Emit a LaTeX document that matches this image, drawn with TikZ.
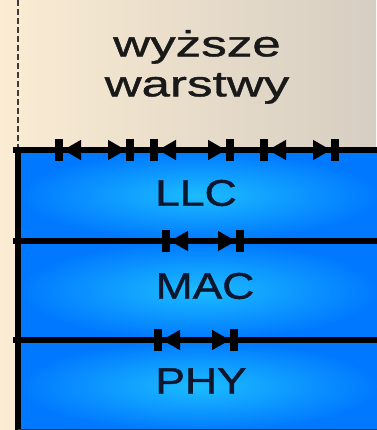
\documentclass[tikz,border=0pt]{standalone}
\usepackage{fontspec}
\setmainfont{Liberation Sans}
\newfontfamily\upperfont[FakeStretch=1.42,FakeBold=1.2]{Liberation Sans}
\newfontfamily\layerfont[FakeStretch=1.2,FakeBold=1.2]{Liberation Sans}
\definecolor{paperleft}{RGB}{251,236,211}
\definecolor{paperright}{RGB}{214,206,194}
\definecolor{layerhi}{RGB}{28,188,255}
\definecolor{layerlo}{RGB}{0,120,255}
\definecolor{labelink}{RGB}{12,22,45}
\definecolor{dashgrey}{RGB}{60,60,60}
\usetikzlibrary{arrows.meta}

\begin{document}
\begin{tikzpicture}[
      x=1pt,y=-1pt,
      layer/.style={inner color=layerhi,outer color=layerlo},
      lname/.style={font=\layerfont\fontsize{37}{40}\selectfont,text=labelink,inner sep=0pt},
      sep line/.style={line width=5.5pt,black},
      peer/.style={line width=5.5pt,
                   {Rectangle[length=8pt,width=22pt]Triangle[length=18pt,width=19pt]}-%
                   {Triangle[length=18pt,width=19pt]Rectangle[length=8pt,width=22pt]}}]
    \useasboundingbox (0,0) rectangle (376,430);
    \shade[left color=paperleft,right color=paperright] (0,0) rectangle (376,430);
    \draw[dashgrey,line width=2pt,dash pattern=on 6pt off 3pt] (18,0) -- (18,147);

    % the three layers
    \shade[layer] (18,150) rectangle (380,241);
    \shade[layer] (18,241) rectangle (380,340);
    \shade[layer] (18,340) rectangle (380,432);

    \node[inner sep=0pt,align=center,text=black!90,
          font=\upperfont\fontsize{36}{40}\selectfont] (upper) at (197,67) {wyższe\\warstwy};
    \node[lname] (llc) at (196,193) {LLC};
    \node[lname] (mac) at (205,286) {MAC};
    \node[lname] (phy) at (201,381) {PHY};

    % borders between the layers
    \coordinate (top-l) at (13,150);  \coordinate (top-r) at (380,150);
    \coordinate (mid-l) at (13,241);  \coordinate (mid-r) at (380,241);
    \coordinate (low-l) at (13,340);  \coordinate (low-r) at (380,340);
    \coordinate (box-t) at (18,148);  \coordinate (box-b) at (18,432);
    \draw[sep line] (top-l) -- (top-r);
    \draw[sep line] (mid-l) -- (mid-r);
    \draw[sep line] (low-l) -- (low-r);
    \draw[line width=5.5pt] (box-t) -- (box-b);
    \draw[line width=2pt,black!80] (18,430) -- (380,430);

    % peer links on each border
    \foreach \a/\b [count=\i] in {55/134,150/234,260/339}{
      \coordinate (u\i) at (\a,150);
      \coordinate (v\i) at (\b,150);
      \draw[peer] (u\i) -- (v\i);
    }
    \coordinate (mac-a) at (162,241);  \coordinate (mac-b) at (244,241);
    \coordinate (phy-a) at (154,340);  \coordinate (phy-b) at (238,340);
    \draw[peer] (mac-a) -- (mac-b);
    \draw[peer] (phy-a) -- (phy-b);
  \end{tikzpicture}
\end{document}
